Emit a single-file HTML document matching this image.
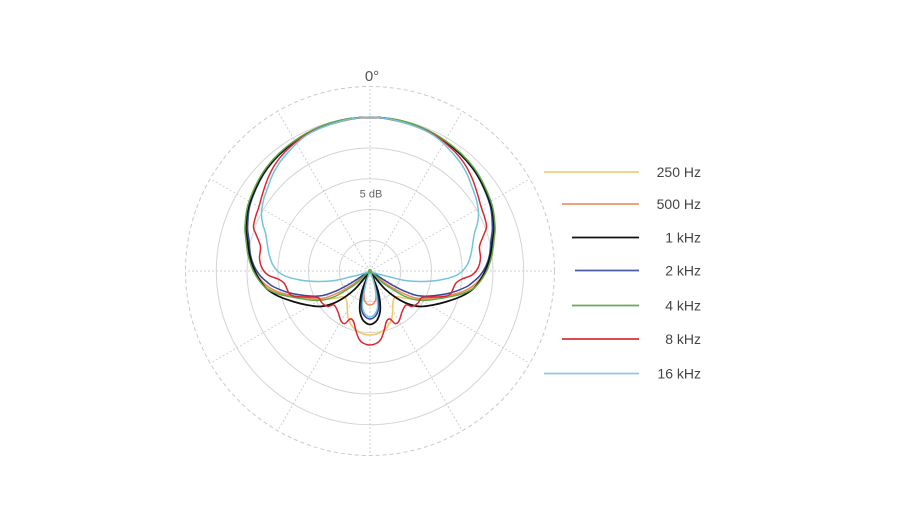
<!DOCTYPE html>
<html>
<head>
<meta charset="utf-8">
<style>
  html, body { margin:0; padding:0; background:#ffffff; }
  body { width:906px; height:511px; overflow:hidden; }
  svg { display:block; }
  text { font-family: "Liberation Sans", "DejaVu Sans", sans-serif; }
</style>
</head>
<body>
<svg id="chart" width="906" height="511" viewBox="0 0 906 511" xmlns="http://www.w3.org/2000/svg">
  <rect x="0" y="0" width="906" height="511" fill="#ffffff"/>
  <g id="grid" fill="none">
    <circle cx="370" cy="271" r="30.7" stroke="#d4d4d4" stroke-width="1"/>
    <circle cx="370" cy="271" r="61.5" stroke="#d4d4d4" stroke-width="1"/>
    <circle cx="370" cy="271" r="92.2" stroke="#d4d4d4" stroke-width="1"/>
    <circle cx="370" cy="271" r="123" stroke="#d4d4d4" stroke-width="1"/>
    <circle cx="370" cy="271" r="153.7" stroke="#d4d4d4" stroke-width="1"/>
    <circle cx="370" cy="271" r="184.5" stroke="#c9c9c9" stroke-width="1" stroke-dasharray="4 3"/>
  </g>
  <g id="spokes" stroke="#cfcfcf" stroke-width="1" stroke-dasharray="2 2"></g>
  <rect x="356" y="185" width="30" height="15" fill="#ffffff"/>
  <text x="371" y="197.5" font-size="11" fill="#666" text-anchor="middle">5 dB</text>
  <text x="372" y="81" font-size="15" fill="#555" text-anchor="middle">0°</text>
  <g id="curves" fill="none" stroke-linejoin="round" stroke-linecap="round"></g>

  <g id="legend" font-size="14" fill="#444" text-anchor="end">
    <line x1="544" y1="172" x2="639" y2="172" stroke="#f2cf7e" stroke-width="1.8"/>
    <text x="701" y="177">250 Hz</text>
    <line x1="562" y1="204" x2="639" y2="204" stroke="#f2926a" stroke-width="1.8"/>
    <text x="701" y="209">500 Hz</text>
    <line x1="572" y1="237.5" x2="639" y2="237.5" stroke="#111111" stroke-width="1.8"/>
    <text x="701" y="242.5">1 kHz</text>
    <line x1="575" y1="270.5" x2="639" y2="270.5" stroke="#4a5aa8" stroke-width="1.8"/>
    <text x="701" y="275.5">2 kHz</text>
    <line x1="572" y1="305.5" x2="639" y2="305.5" stroke="#6aaa50" stroke-width="1.8"/>
    <text x="701" y="310.5">4 kHz</text>
    <line x1="562" y1="339" x2="639" y2="339" stroke="#d9303a" stroke-width="1.8"/>
    <text x="701" y="344">8 kHz</text>
    <line x1="544" y1="373.5" x2="639" y2="373.5" stroke="#8ccbdc" stroke-width="1.8"/>
    <text x="701" y="378.5">16 kHz</text>
  </g>
</svg>
<script>
(function(){
  var NS = "http://www.w3.org/2000/svg";
  var cx = 370, cy = 271;
  function P(t, r){ var a = t*Math.PI/180; return [cx - r*Math.sin(a), cy - r*Math.cos(a)]; }
  function mir(p){ return [2*cx - p[0], p[1]]; }
  function mirList(L){ return L.map(mir); }
  function f(n){ return n.toFixed(2); }
  function crPath(pts, closed){
    var n = pts.length, d = "M" + f(pts[0][0]) + "," + f(pts[0][1]);
    var segs = closed ? n : n - 1;
    for (var i = 0; i < segs; i++){
      var p0, p1 = pts[i], p2, p3;
      if (closed){
        p0 = pts[(i - 1 + n) % n]; p2 = pts[(i + 1) % n]; p3 = pts[(i + 2) % n];
      } else {
        p0 = pts[i - 1] || pts[i]; p2 = pts[i + 1]; p3 = pts[i + 2] || pts[i + 1];
      }
      var c1 = [p1[0] + (p2[0] - p0[0]) / 6, p1[1] + (p2[1] - p0[1]) / 6];
      var c2 = [p2[0] - (p3[0] - p1[0]) / 6, p2[1] - (p3[1] - p1[1]) / 6];
      d += " C" + f(c1[0]) + "," + f(c1[1]) + " " + f(c2[0]) + "," + f(c2[1]) + " " + f(p2[0]) + "," + f(p2[1]);
    }
    if (closed) d += " Z";
    return d;
  }
  // main lobe ending at center: L from top to center (left half)
  function lobeToCenter(L){
    var R = mirList(L).reverse();
    return crPath(R.concat(L.slice(1)), false);
  }
  // rear lobe: from center to bottom (left half)
  function rearLobe(L){
    var R = mirList(L).reverse();
    return crPath(L.concat(R.slice(1)), false);
  }
  // closed curve: L from top to bottom (left half)
  function closedCurve(L){
    var R = mirList(L).reverse();
    var all = L.concat(R.slice(1, R.length - 1));
    return crPath(all, true);
  }
  var g = document.getElementById("curves");
  function add(d, color, w){
    var p = document.createElementNS(NS, "path");
    p.setAttribute("d", d); p.setAttribute("stroke", color); p.setAttribute("stroke-width", w);
    g.appendChild(p);
  }

  // spokes
  var sg = document.getElementById("spokes");
  for (var k = 0; k < 12; k++){
    var e = P(k*30, 184.5);
    var ln = document.createElementNS(NS, "line");
    ln.setAttribute("x1", cx); ln.setAttribute("y1", cy);
    ln.setAttribute("x2", f(e[0])); ln.setAttribute("y2", f(e[1]));
    sg.appendChild(ln);
  }

  var C = {
    yellow: "#f2c96a", orange: "#f08a5e", black: "#111111", blue: "#34479a",
    green: "#62aa45", red: "#dc2630", cyan: "#74c4dc"
  };

  // 250 Hz (yellow) - continuous
  var yellow = [P(0,153.7), P(15,153.1), P(30,150), P(45,145.5), P(60,138.8), P(70,132),
    [247.5,240],[249.5,255],[253,267],[258.5,277],[266,286],[277,292.5],[290,295.5],[310,299],
    [325,299.5],[337,297.8],[344,296.8],[346.8,301],[347.3,310],[348.2,318],[352,326],[360,332.5],[370,335]];
  add(closedCurve(yellow), C.yellow, 1.6);

  // 500 Hz (orange)
  var orange = [P(0,153.7), P(15,153), P(30,149.6), P(45,145), P(60,138), P(70,131),
    [248,240],[250,255],[253,266],[258,276],[266,285],[277,291.5],[290,295],[310,298.3],[323,298.3],
    [336.5,293.5],[347,288],[355,283],[363,276.5],[370,271]];
  add(lobeToCenter(orange), C.orange, 1.5);
  var orangeR = [[370,271],[367,279],[365,287],[364,295],[364.6,300.5],[367,304],[370,305]];
  add(rearLobe(orangeR), C.orange, 1.5);

  // 2 kHz (blue)
  var blue = [P(0,153.7), P(15,153), P(30,149.5), P(45,145), P(60,137.6), P(70,130.2),
    [249,240],[250.5,255],[254,266],[260,275.5],[267,282],[274,287],[290,293],[310,296],[323,295.5],
    [336,291],[347,285.5],[356,280],[363.5,275],[370,271]];
  add(lobeToCenter(blue), C.blue, 1.5);
  var blueR = [[370,271],[366,281],[363,292],[361.5,303],[362,311],[365,316.5],[370,319]];
  add(rearLobe(blueR), C.blue, 1.5);

  // 1 kHz (black)
  var black = [P(0,153.7), P(15,153), P(30,150), P(45,145.5), P(60,138.5), P(70,132),
    [247.3,240],[249.5,255],[253.5,268],[259,279],[267,289],[278,296],[293,301.5],[307,305],[320,306.5],
    [333,303.5],[345,297],[355,289],[362,281],[370,271]];
  add(lobeToCenter(black), C.black, 1.8);
  var blackR = [[370,271],[366,280],[362,291],[360,302],[360,312],[362.5,319.5],[366,323],[370,324.5]];
  add(rearLobe(blackR), C.black, 1.8);

  // 4 kHz (green)
  var green = [P(0,153.7), P(15,153.3), P(30,150.6), P(45,146.5), P(60,139.6), P(70,133),
    [246,240],[248,255],[252,268],[258,279],[266,288],[277,293.5],[290,296.7],[310,300],[323,300],
    [336,296],[348,289],[357,283],[364,276],[370,271]];
  add(lobeToCenter(green), C.green, 1.5);

  // 8 kHz (red) - continuous with wiggles
  var red = [P(0,153.7), [340,121.7],[308,133.5],[288,149],[276,163],[268,178],[262.5,194],[259,206.5],
    [255.5,217],[253.5,227],[256.5,235.5],[260.5,246.5],[259.5,258],[262,268],[268,275],[278,279],
    [284,283],[287,289],[289.5,294],[295,296.5],[307,297],[318,297.5],[322,303],[328,306.5],[334,305],
    [338,312],[341,321],[345,323.5],[350,319],[353.5,321.5],[356,331],[359,339],[363,343],[370,345]];
  add(closedCurve(red), C.red, 1.5);

  // 16 kHz (cyan)
  var cyan = [P(0,153.7), [340,121.5],[307,135],[284,157],[273.5,173],[268,187],[263.5,200],[261.5,214],
    [263,225],[265.5,233],[267,242],[269,254],[273.5,266],[283,275],[300,280],[318,281.5],[335,280.5],
    [350,277],[362,274],[370,271]];
  add(lobeToCenter(cyan), C.cyan, 1.5);
  var cyanR = [[370,271],[366.5,281],[364,292],[362.5,303],[363,310],[366,315],[370,317]];
  add(rearLobe(cyanR), C.cyan, 1.4);

  // small green dot at center
  var dot = document.createElementNS(NS, "circle");
  dot.setAttribute("cx", cx); dot.setAttribute("cy", cy); dot.setAttribute("r", 2);
  dot.setAttribute("fill", C.green);
  g.appendChild(dot);
})();
</script>
</body>
</html>
